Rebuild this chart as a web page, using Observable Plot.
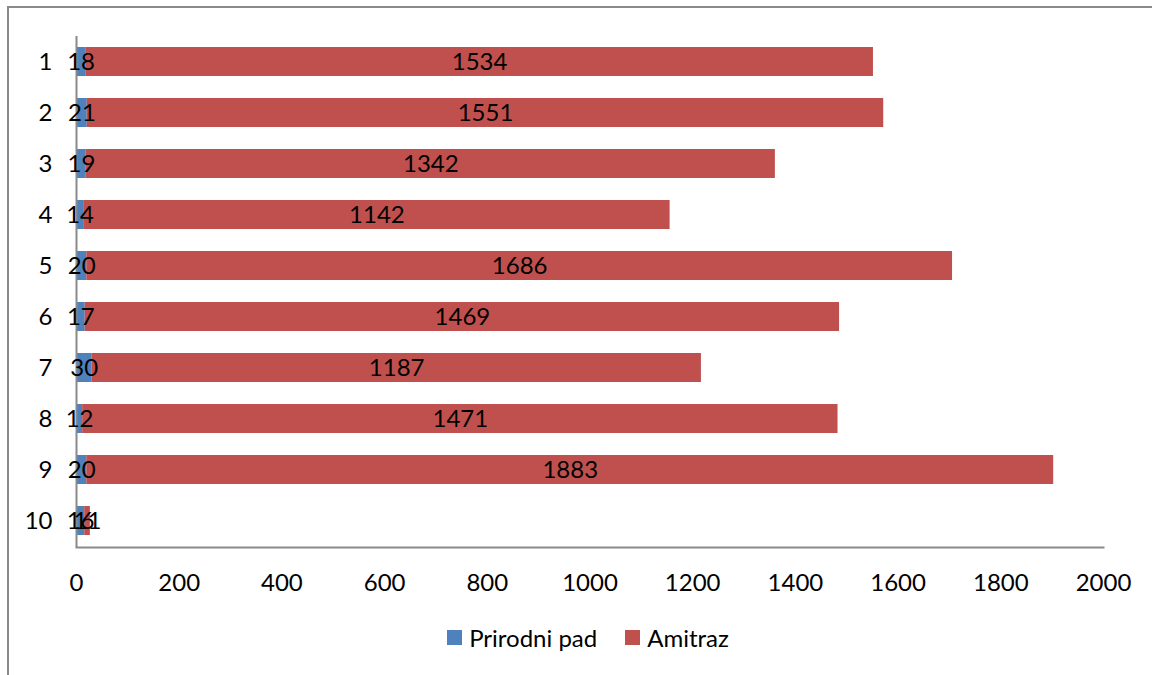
<!DOCTYPE html>
<html>
<head>
<meta charset="utf-8">
<script src="https://cdn.jsdelivr.net/npm/d3@7"></script>
<script src="https://cdn.jsdelivr.net/npm/@observablehq/plot@0.6"></script>
<style>
  html, body { margin: 0; padding: 0; background: #fff; overflow: hidden; }
  body { width: 1152px; height: 675px; position: relative; font-family: Lato, "Open Sans", sans-serif; }
  #border { position: absolute; left: 7px; top: 6px; width: 1300px; height: 800px; border-left: 2px solid #8a8a8a; border-top: 2px solid #8a8a8a; }
  #chart { position: absolute; left: 0; top: 0; }
  #legend { position: absolute; top: 623px; left: 0; width: 1152px; display: flex; justify-content: center; font-size: 24px; color: #000; padding-left: 24px; box-sizing: border-box; }
  .item { display: flex; align-items: center; margin: 0 14px; }
  .sw { width: 15px; height: 15px; margin-right: 7px; }
</style>
</head>
<body>
<div id="border"></div>
<div id="chart"></div>
<div id="legend"></div>
<script>
const categories = ["1","2","3","4","5","6","7","8","9","10"];
const seriesNames = ["Prirodni pad", "Amitraz"];
const prirodniPad = [18, 21, 19, 14, 20, 17, 30, 12, 20, 16];
const amitraz = [1534, 1551, 1342, 1142, 1686, 1469, 1187, 1471, 1883, 11];
const xTicks = [0, 200, 400, 600, 800, 1000, 1200, 1400, 1600, 1800, 2000];
const colors = ["#4F81BD", "#C0504D"];

const data = [];
categories.forEach((c, i) => {
  data.push({cat: c, series: seriesNames[0], value: prirodniPad[i]});
  data.push({cat: c, series: seriesNames[1], value: amitraz[i]});
});

const plot = Plot.plot({
  width: 1152,
  height: 600,
  marginLeft: 76,
  marginRight: 49,
  marginTop: 36,
  marginBottom: 53,
  style: {fontFamily: "Lato, 'Open Sans', sans-serif", fontSize: "24px", color: "#000", background: "transparent"},
  x: {domain: [0, 2000], ticks: xTicks, label: null},
  y: {domain: categories, paddingInner: 0.43, paddingOuter: 0.215, label: null},
  color: {domain: seriesNames, range: colors},
  marks: [
    Plot.barX(data, Plot.stackX({x: "value", y: "cat", fill: "series", z: "series"})),
    Plot.ruleX([0], {stroke: "#8a8a8a", strokeWidth: 2}),
    Plot.frame({anchor: "bottom", stroke: "#8a8a8a", strokeWidth: 2}),
    Plot.text(data, Plot.stackX({x: "value", y: "cat", z: "series", text: d => String(d.value), fill: "#000", fontSize: 24})),
    Plot.axisX({ticks: xTicks, tickSize: 0, tickPadding: 26, fontSize: 24, tickFormat: d => String(d)}),
    Plot.axisY({tickSize: 0, tickPadding: 24, fontSize: 24})
  ]
});
document.getElementById("chart").appendChild(plot);

const legend = document.getElementById("legend");
seriesNames.forEach((s, i) => {
  const item = document.createElement("div");
  item.className = "item";
  const sw = document.createElement("div");
  sw.className = "sw";
  sw.style.background = colors[i];
  const t = document.createElement("span");
  t.textContent = s;
  item.appendChild(sw);
  item.appendChild(t);
  legend.appendChild(item);
});
</script>
</body>
</html>
